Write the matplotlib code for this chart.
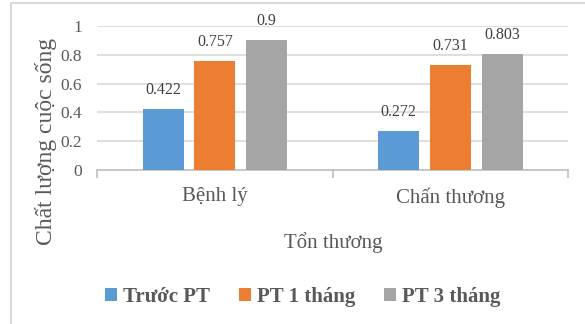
import numpy as np
import matplotlib.pyplot as plt
from matplotlib.patches import Rectangle

categories = ['Bệnh lý', 'Chấn thương']
series_names = ['Trước PT', 'PT 1 tháng', 'PT 3 tháng']
truoc_pt = [0.422, 0.272]
pt_1_thang = [0.757, 0.731]
pt_3_thang = [0.9, 0.803]
yticks = [0, 0.2, 0.4, 0.6, 0.8, 1]
ytick_labels = ['0', '0.2', '0.4', '0.6', '0.8', '1']

colors = ['#5b9bd5', '#ed7d31', '#a5a5a5']
txt = '#595959'

plt.rcParams['font.family'] = ['Liberation Serif', 'DejaVu Serif']

fig = plt.figure(figsize=(5.85, 3.24), dpi=100)
ax = fig.add_axes([0.166, 0.475, 0.805, 0.445])

# outer chart border (cut off on right/bottom in the reference)
fig.add_artist(Rectangle((11 / 585, -0.1), 1.2, 1 - 3 / 324 + 0.1,
                         transform=fig.transFigure, fill=False,
                         edgecolor='#d9d9d9', linewidth=1.5))

x = np.arange(len(categories))
width = 0.174
offsets = [-0.22, 0, 0.22]
for vals, name, c, off in zip([truoc_pt, pt_1_thang, pt_3_thang], series_names, colors, offsets):
    bars = ax.bar(x + off, vals, width, color=c, label=name, zorder=3)
    for b, v in zip(bars, vals):
        ax.annotate(f'{v:g}', (b.get_x() + b.get_width() / 2, v),
                    xytext=(0, 8), textcoords='offset points',
                    ha='center', va='bottom', fontsize=11.5, color='#404040')

ax.set_xlim(-0.5, 1.5)
ax.set_ylim(0, 1)
ax.set_yticks(yticks)
ax.set_yticklabels(ytick_labels, fontsize=12.5, color=txt)
ax.yaxis.grid(True, color='#d9d9d9', linewidth=1.2, zorder=0)
ax.tick_params(axis='y', length=0, pad=11)

ax.set_xticks([-0.5, 0.5, 1.5])
ax.set_xticklabels([])
ax.tick_params(axis='x', length=6, color='#bfbfbf', width=1.2, direction='out')
for i, c in enumerate(categories):
    ax.text(i, -0.12, c, ha='center', va='top', fontsize=15, color=txt,
            transform=ax.transData, clip_on=False)

for s in ['top', 'right', 'left']:
    ax.spines[s].set_visible(False)
ax.spines['bottom'].set_color('#bfbfbf')
ax.spines['bottom'].set_linewidth(1.2)

ax.set_ylabel('Chất lượng cuộc sống', fontsize=17, color=txt)
ax.yaxis.set_label_coords(-0.085, 0.2)
fig.text(333 / 585, 1 - 243 / 324, 'Tổn thương', ha='center', va='center',
         fontsize=15, color=txt)

leg = fig.legend(loc='center', bbox_to_anchor=(303 / 585, 1 - 297 / 324), ncol=3,
                 frameon=False, handlelength=0.55, handleheight=0.55,
                 handletextpad=0.3, columnspacing=1.4,
                 prop={'size': 15, 'weight': 'bold'})
for t in leg.get_texts():
    t.set_color(txt)

fig.savefig('out.png', dpi=100)
